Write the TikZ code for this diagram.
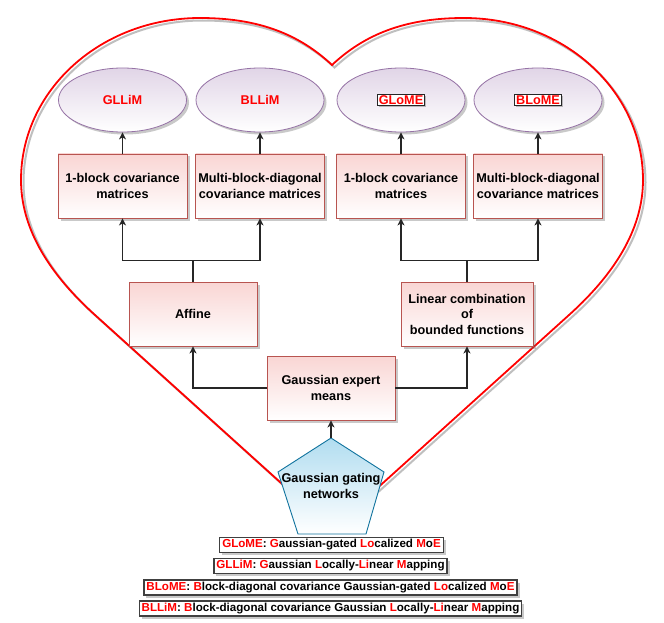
\documentclass[tikz,border=0pt]{standalone}
\usepackage{fontspec}
\setmainfont{Liberation Sans}
\usetikzlibrary{shapes.geometric,shadows,arrows.meta}
\definecolor{ellfill}{HTML}{E1D5E7}
\definecolor{ellline}{HTML}{9673A6}
\definecolor{boxfill}{HTML}{F8CECC}
\definecolor{boxline}{HTML}{B85450}
\definecolor{penfill}{HTML}{B1DDF0}
\definecolor{penline}{HTML}{10739E}
\definecolor{hred}{HTML}{FF0000}
\newcommand\redt[1]{\textcolor{hred}{#1}}
\def\heartpath{(332,529) -- (95,315) .. controls (45,270) and (21,225) .. (21,180) .. controls (21,90) and (101,18) .. (200,18) .. controls (260,18) and (300,35) .. (332,65) .. controls (364,35) and (404,18) .. (464,18) .. controls (563,18) and (643,90) .. (643,180) .. controls (643,225) and (619,270) .. (569,315) -- cycle}
\begin{document}
\begin{tikzpicture}[x=1pt,y=-1pt,
 font=\fontsize{12.7}{15.5}\selectfont\bfseries,
 shad/.style={drop shadow={shadow xshift=2.5pt,shadow yshift=-2.5pt,opacity=0.35,fill=black!60}},
 ell/.style={ellipse, draw=ellline, line width=0.8pt, top color=ellfill, bottom color=white, minimum width=128pt, minimum height=64pt, inner sep=0pt, text=hred, shad},
 pbox/.style={rectangle, draw=boxline, line width=0.9pt, top color=boxfill!85, bottom color=white, minimum width=129pt, minimum height=64pt, align=center, inner sep=1pt, shad},
 arr/.style={draw=black!85, line width=1.1pt, -{Stealth[length=7pt,width=7pt,inset=2pt]}},
 ln/.style={draw=black!85, line width=1.1pt},
 tag/.style={draw=black!85, fill=white, line width=1pt, text=hred, inner sep=1.5pt, drop shadow={shadow xshift=1.5pt,shadow yshift=-1.5pt,opacity=0.4,fill=black!60}},
 leg/.style={draw=black!75, fill=white, line width=1.2pt, inner xsep=2.5pt, inner ysep=0pt, minimum height=15pt, font=\fontsize{11.6}{13}\selectfont\bfseries, shad}
]
\path[use as bounding box, fill=white] (0,0) rectangle (664,623);

% heart
\draw[black!25, line width=2pt, shift={(2.5,2.5)}] \heartpath;
\draw[hred, line width=1.8pt] \heartpath;

% ellipses
\node[ell] (e1) at (122.5,100) {GLLiM};
\node[ell] (e2) at (260,100) {BLLiM};
\node[ell] (e3) at (401,100) {};
\node[ell] (e4) at (538,100) {};
\node[tag] (t3) at (e3) {GLoME};
\node[tag] (t4) at (e4) {BLoME};

% covariance boxes
\node[pbox] (b1) at (122.5,186) {1-block covariance\\matrices};
\node[pbox] (b2) at (260,186) {Multi-block-diagonal\\covariance matrices};
\node[pbox] (b3) at (401,186) {1-block covariance\\matrices};
\node[pbox] (b4) at (538,186) {Multi-block-diagonal\\covariance matrices};

% mean boxes
\node[pbox, minimum width=128pt] (af) at (193,314) {Affine};
\node[pbox, minimum width=132pt] (lc) at (467,314) {Linear combination\\of\\bounded functions};
\node[pbox, minimum width=128pt] (gem) at (331,388) {Gaussian expert\\means};

% pentagon
\coordinate (gtop) at (331,438);
\draw[penline, line width=0.9pt, top color=penfill, bottom color=white] (gtop) -- (384,472) -- (366,534) -- (298,534) -- (278,472) -- cycle;
\node[align=center] (gate) at (331,486) {Gaussian gating\\networks};

% connectors
\draw[arr] (b1) -- (e1);
\draw[arr] (b2) -- (e2);
\draw[arr] (b3) -- (e3);
\draw[arr] (b4) -- (e4);
\draw[arr] (af.north) -- ++(0,-21) -| (b1.south);
\draw[arr] (af.north) -- ++(0,-21) -| (b2.south);
\draw[arr] (lc.north) -- ++(0,-21) -| (b3.south);
\draw[arr] (lc.north) -- ++(0,-21) -| (b4.south);
\draw[arr] (gem.west) -| (af.south);
\draw[arr] (gem.east) -| (lc.south);
\draw[arr] (gtop) -- (gem.south);

% legend
\node[leg] (l1) at (331.5,545) {\redt{GLoME}: \redt{G}aussian-gated \redt{Lo}calized \redt{M}o\redt{E}};
\node[leg] (l2) at (330.5,566) {\redt{GLLiM}: \redt{G}aussian \redt{L}ocally-\redt{Li}near \redt{M}apping};
\node[leg] (l3) at (330.5,587.5) {\redt{BLoME}: \redt{B}lock-diagonal covariance Gaussian-gated \redt{Lo}calized \redt{M}o\redt{E}};
\node[leg] (l4) at (330.5,608.5) {\redt{BLLiM}: \redt{B}lock-diagonal covariance Gaussian \redt{L}ocally-\redt{Li}near \redt{M}apping};
\end{tikzpicture}
\end{document}
